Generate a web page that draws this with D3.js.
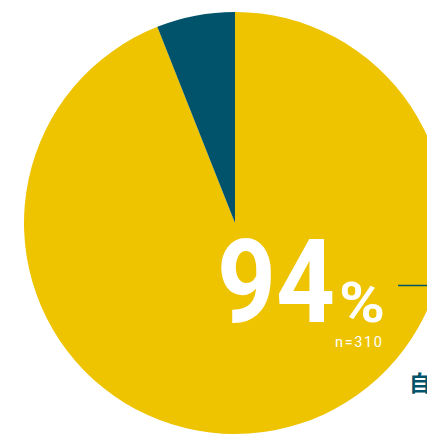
<!DOCTYPE html>
<html lang="ja">
<head>
  <meta charset="UTF-8">
  <title>94%</title>
  <script src="https://d3js.org/d3.v7.min.js"></script>
  <style>
    body { margin: 0; background: #fff; overflow: hidden; }
  </style>
</head>
<body>
  <div class="canvas"></div>
  <script>
    const categories = ["yes", "no"];
    const values = [94, 6];
    const colors = ["#EEC300", "#00536A"];
    const total = 310;

    const width = 427;
    const height = 435;
    const cx = 235, cy = 223, radius = 211;

    const svg = d3.select(".canvas")
      .append("svg")
      .attr("width", width)
      .attr("height", height);

    const pie = d3.pie().sort(null).value(d => d);
    const arc = d3.arc().innerRadius(0).outerRadius(radius);

    const graph = svg.append("g")
      .attr("transform", `translate(${cx}, ${cy})`);

    graph.selectAll("path")
      .data(pie(values))
      .enter()
      .append("path")
      .attr("d", arc)
      .attr("fill", (d, i) => colors[i]);

    // big percentage label (narrow DIN-like digits, squeezed with textLength)
    svg.append("text")
      .attr("x", 217)
      .attr("y", 322)
      .attr("fill", "#fff")
      .attr("font-family", "Roboto, sans-serif")
      .attr("font-weight", 700)
      .attr("font-size", 116)
      .attr("textLength", 118)
      .attr("lengthAdjust", "spacingAndGlyphs")
      .text(values[0]);

    svg.append("text")
      .attr("x", 339)
      .attr("y", 322)
      .attr("fill", "#fff")
      .attr("font-family", "Roboto, sans-serif")
      .attr("font-weight", 700)
      .attr("font-size", 56)
      .attr("textLength", 46)
      .attr("lengthAdjust", "spacingAndGlyphs")
      .text("%");

    svg.append("text")
      .attr("x", 335)
      .attr("y", 347)
      .attr("fill", "#fff")
      .attr("font-family", "Roboto, sans-serif")
      .attr("font-size", 14.5)
      .attr("textLength", 47)
      .attr("lengthAdjust", "spacing")
      .text("n=" + total);

    // leader line and label going off to the right
    svg.append("line")
      .attr("x1", 398).attr("x2", width)
      .attr("y1", 285.5).attr("y2", 285.5)
      .attr("stroke", colors[1])
      .attr("stroke-width", 1.5);

    svg.append("text")
      .attr("x", 409)
      .attr("y", 391)
      .attr("fill", colors[1])
      .attr("font-family", "'Noto Sans CJK JP', sans-serif")
      .attr("font-weight", 700)
      .attr("font-size", 22)
      .text("自");
  </script>
</body>
</html>
